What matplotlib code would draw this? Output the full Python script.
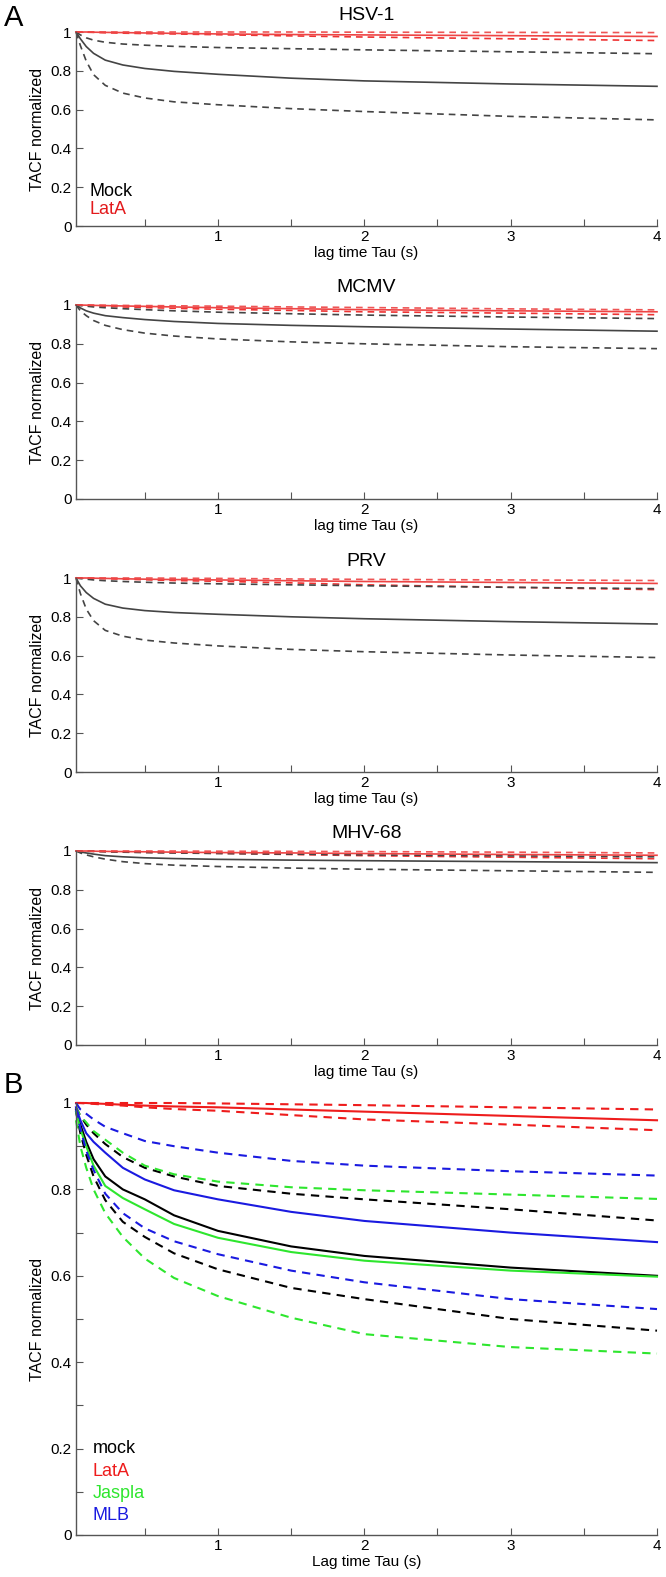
import matplotlib
matplotlib.use("Agg")
import matplotlib.pyplot as plt

plt.rcParams["font.family"] = ["Liberation Sans", "DejaVu Sans"]

# ── Data ───────────────────────────────────────────────────────────────────────
tau = [0.03, 0.06, 0.1, 0.15, 0.23, 0.35, 0.5, 0.7, 1.0, 1.5, 2.0, 3.0, 4.0]

virus_titles = ["HSV-1", "MCMV", "PRV", "MHV-68"]

# panel A: mock (solid + dashed bounds) and LatA (solid + dashed bounds) per virus
mock_mean = [
    [1.0, 0.965, 0.925, 0.89, 0.855, 0.83, 0.812, 0.797, 0.782, 0.762, 0.748, 0.732, 0.72],
    [1.0, 0.985, 0.97, 0.958, 0.945, 0.935, 0.925, 0.915, 0.905, 0.895, 0.888, 0.876, 0.865],
    [1.0, 0.96, 0.925, 0.895, 0.865, 0.845, 0.832, 0.822, 0.813, 0.80, 0.79, 0.775, 0.763],
    [1.0, 0.995, 0.99, 0.984, 0.976, 0.97, 0.965, 0.961, 0.957, 0.953, 0.95, 0.945, 0.94],
]
mock_hi = [
    [1.0, 0.985, 0.97, 0.958, 0.947, 0.938, 0.932, 0.926, 0.92, 0.914, 0.908, 0.898, 0.888],
    [1.0, 0.997, 0.994, 0.99, 0.986, 0.981, 0.976, 0.97, 0.963, 0.955, 0.948, 0.938, 0.93],
    [1.0, 0.997, 0.994, 0.99, 0.986, 0.982, 0.978, 0.974, 0.97, 0.965, 0.96, 0.952, 0.945],
    [1.0, 1.0, 0.999, 0.998, 0.996, 0.994, 0.992, 0.99, 0.987, 0.984, 0.98, 0.975, 0.97],
]
mock_lo = [
    [1.0, 0.93, 0.85, 0.78, 0.725, 0.685, 0.66, 0.64, 0.625, 0.605, 0.59, 0.565, 0.547],
    [1.0, 0.97, 0.945, 0.92, 0.895, 0.873, 0.855, 0.84, 0.825, 0.81, 0.80, 0.785, 0.775],
    [1.0, 0.92, 0.84, 0.78, 0.73, 0.70, 0.68, 0.665, 0.65, 0.632, 0.62, 0.603, 0.59],
    [1.0, 0.99, 0.98, 0.97, 0.958, 0.945, 0.935, 0.927, 0.92, 0.912, 0.906, 0.898, 0.89],
]
lata_mean = [
    [1.0, 1.0, 1.0, 0.999, 0.998, 0.997, 0.995, 0.993, 0.99, 0.987, 0.985, 0.981, 0.977],
    [1.0, 1.0, 0.999, 0.998, 0.997, 0.995, 0.993, 0.99, 0.986, 0.981, 0.976, 0.97, 0.965],
    [1.0, 1.0, 1.0, 0.999, 0.998, 0.996, 0.994, 0.992, 0.99, 0.986, 0.982, 0.977, 0.972],
    [1.0, 1.0, 1.0, 0.999, 0.998, 0.997, 0.996, 0.994, 0.992, 0.99, 0.987, 0.982, 0.978],
]
lata_hi = [
    [1.0, 1.0, 1.0, 1.0, 1.0, 1.0, 1.0, 1.0, 1.0, 1.0, 0.999, 0.998, 0.997],
    [1.0, 1.0, 1.0, 1.0, 0.999, 0.998, 0.997, 0.996, 0.994, 0.99, 0.987, 0.98, 0.975],
    [1.0, 1.0, 1.0, 1.0, 1.0, 1.0, 1.0, 0.999, 0.998, 0.995, 0.993, 0.99, 0.987],
    [1.0, 1.0, 1.0, 1.0, 1.0, 1.0, 1.0, 1.0, 0.999, 0.998, 0.997, 0.994, 0.99],
]
lata_lo = [
    [1.0, 1.0, 0.999, 0.998, 0.996, 0.994, 0.992, 0.99, 0.986, 0.98, 0.974, 0.965, 0.956],
    [1.0, 0.999, 0.998, 0.996, 0.994, 0.99, 0.987, 0.983, 0.978, 0.972, 0.965, 0.958, 0.95],
    [1.0, 1.0, 0.999, 0.998, 0.996, 0.994, 0.991, 0.987, 0.983, 0.975, 0.965, 0.952, 0.94],
    [1.0, 1.0, 0.999, 0.998, 0.997, 0.995, 0.993, 0.991, 0.988, 0.982, 0.976, 0.968, 0.96],
]

# panel B: treatments (mean, upper bound, lower bound)
b_names = ["mock", "LatA", "Jaspla", "MLB"]
b_mean = [
    [0.985, 0.95, 0.91, 0.87, 0.83, 0.80, 0.777, 0.74, 0.704, 0.668, 0.646, 0.619, 0.60],
    [1.0, 1.0, 1.0, 0.999, 0.998, 0.996, 0.994, 0.992, 0.99, 0.985, 0.98, 0.97, 0.96],
    [0.98, 0.94, 0.90, 0.855, 0.808, 0.78, 0.754, 0.72, 0.688, 0.655, 0.635, 0.612, 0.598],
    [0.99, 0.96, 0.93, 0.91, 0.885, 0.85, 0.823, 0.798, 0.777, 0.748, 0.727, 0.70, 0.678],
]
b_hi = [
    [0.99, 0.97, 0.95, 0.93, 0.905, 0.875, 0.85, 0.83, 0.808, 0.79, 0.777, 0.754, 0.728],
    [1.0, 1.0, 1.0, 1.0, 1.0, 1.0, 1.0, 1.0, 0.999, 0.997, 0.995, 0.99, 0.985],
    [0.99, 0.97, 0.955, 0.935, 0.915, 0.885, 0.855, 0.835, 0.818, 0.805, 0.798, 0.788, 0.778],
    [1.0, 0.985, 0.975, 0.962, 0.945, 0.93, 0.912, 0.90, 0.885, 0.866, 0.855, 0.842, 0.832],
]
b_lo = [
    [0.98, 0.93, 0.88, 0.83, 0.775, 0.725, 0.69, 0.652, 0.615, 0.572, 0.546, 0.50, 0.473],
    [1.0, 1.0, 0.999, 0.998, 0.996, 0.994, 0.99, 0.986, 0.982, 0.972, 0.962, 0.95, 0.937],
    [0.96, 0.90, 0.85, 0.80, 0.745, 0.69, 0.64, 0.595, 0.553, 0.503, 0.465, 0.435, 0.42],
    [0.985, 0.94, 0.89, 0.845, 0.79, 0.745, 0.71, 0.68, 0.65, 0.612, 0.585, 0.546, 0.523],
]
b_colors = ["black", "#ee1c1c", "#2ee62e", "#1a1ae0"]

x_ticks = [0.5, 1, 1.5, 2, 2.5, 3, 3.5, 4]
x_ticklabels = ["", "1", "", "2", "", "3", "", "4"]
ya_ticks = [0, 0.2, 0.4, 0.6, 0.8, 1]
ya_ticklabels = ["0", "0.2", "0.4", "0.6", "0.8", "1"]
yb_ticks = [0, 0.1, 0.2, 0.3, 0.4, 0.5, 0.6, 0.7, 0.8, 0.9, 1]
yb_ticklabels = ["0", "", "0.2", "", "0.4", "", "0.6", "", "0.8", "", "1"]

# ── Layout (pixels) ────────────────────────────────────────────────────────────
W, H = 666, 1577
AX_L, AX_R = 76, 657
A_TOP0, A_STEP, A_H = 32, 273, 194
B_TOP, B_H = 1103, 432
AXIS_GREY = "#555555"
DASH = (0, (4, 3))


def px_axes(fig, top, height):
    return fig.add_axes([AX_L / W, 1 - (top + height) / H, (AX_R - AX_L) / W, height / H])


def style_axes(ax, yt, ytl, xlabel):
    for s in ("top", "right"):
        ax.spines[s].set_visible(False)
    for s in ("left", "bottom"):
        ax.spines[s].set_color(AXIS_GREY)
        ax.spines[s].set_linewidth(1.0)
    ax.set_xlim(0.03, 4)
    ax.set_ylim(0, 1)
    ax.set_xticks(x_ticks)
    ax.set_xticklabels(x_ticklabels)
    ax.set_yticks(yt)
    ax.set_yticklabels(ytl)
    ax.tick_params(direction="in", length=5, color=AXIS_GREY, labelsize=11, pad=3)
    ax.set_xlabel(xlabel, fontsize=11, labelpad=1)
    ax.set_ylabel("TACF normalized", fontsize=11.5, labelpad=4)


fig = plt.figure(figsize=(W / 100, H / 100), dpi=100)

for k, title in enumerate(virus_titles):
    ax = px_axes(fig, A_TOP0 + k * A_STEP, A_H)
    kw = dict(lw=1.2, clip_on=False)
    ax.plot(tau, lata_hi[k], color="#ee5555", ls=DASH, **kw)
    ax.plot(tau, lata_lo[k], color="#ee3333", ls=DASH, **kw)
    ax.plot(tau, mock_hi[k], color="#444444", ls=DASH, **kw)
    ax.plot(tau, mock_lo[k], color="#444444", ls=DASH, **kw)
    ax.plot(tau, mock_mean[k], color="#444444", ls="-", **kw)
    ax.plot(tau, lata_mean[k], color="#ee4444", ls="-", **kw)
    style_axes(ax, ya_ticks, ya_ticklabels, "lag time Tau (s)")
    ax.set_title(title, fontsize=14, pad=9)
    if k == 0:
        ax.text(0.125, 0.18, "Mock", color="black", fontsize=13, va="center")
        ax.text(0.125, 0.085, "LatA", color="#e31a1c", fontsize=13, va="center")

axb = px_axes(fig, B_TOP, B_H)
for mean, hi, lo, c in zip(b_mean, b_hi, b_lo, b_colors):
    axb.plot(tau, hi, color=c, ls=DASH, lw=1.5, clip_on=False)
    axb.plot(tau, lo, color=c, ls=DASH, lw=1.5, clip_on=False)
    axb.plot(tau, mean, color=c, ls="-", lw=1.5, clip_on=False)
style_axes(axb, yb_ticks, yb_ticklabels, "Lag time Tau (s)")
for i, (name, c) in enumerate(zip(b_names, b_colors)):
    axb.text(0.145, 0.2 - i * 0.052, name, color=c, fontsize=13, va="center")

fig.text(4 / W, 1 - 18 / H, "A", fontsize=21, va="center", ha="left")
fig.text(4 / W, 1 - 1085 / H, "B", fontsize=21, va="center", ha="left")

fig.savefig("out.png", dpi=100)
